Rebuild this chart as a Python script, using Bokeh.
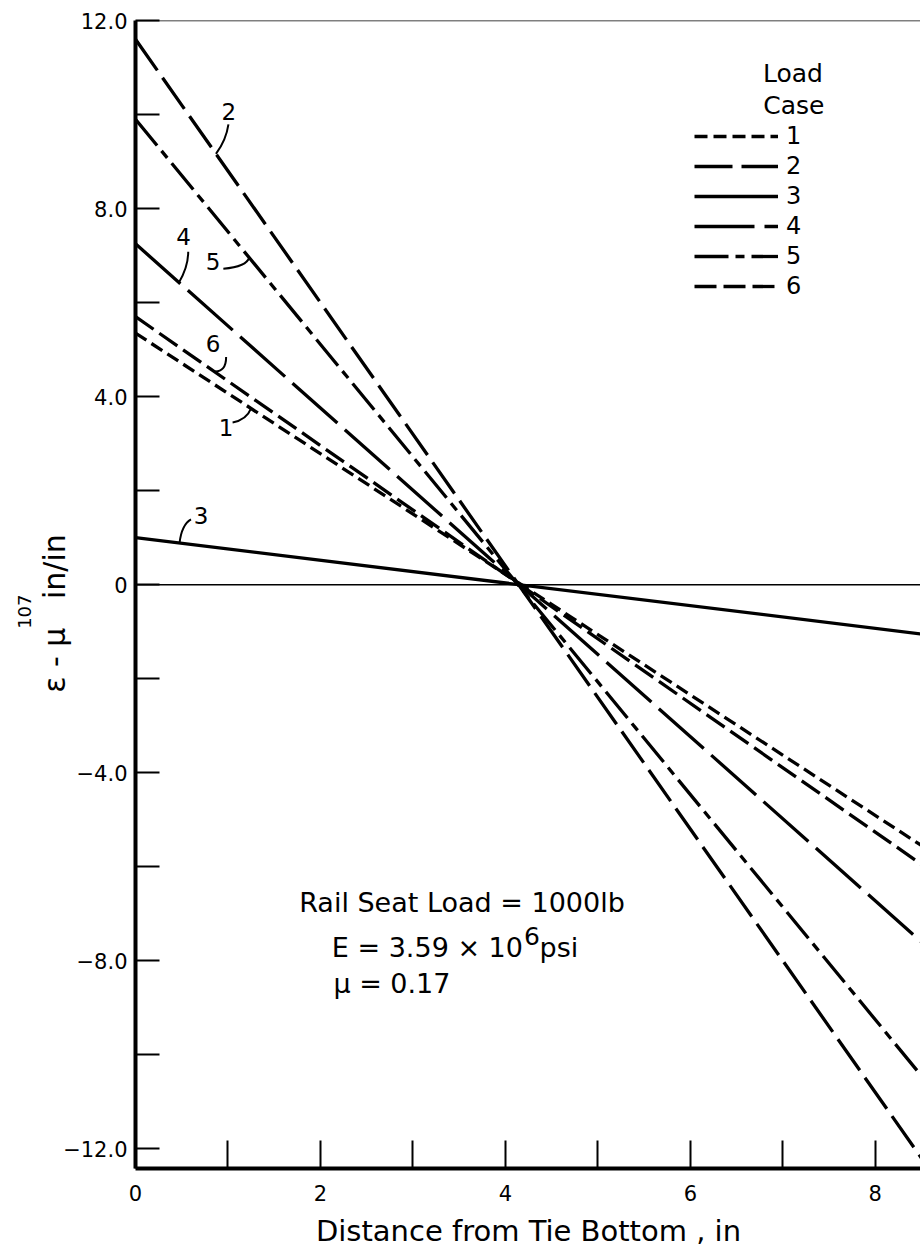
import numpy as np
from bokeh.plotting import figure
from bokeh.models import Range1d, FixedTicker, Span, Label, Legend, LegendItem, LinearAxis
from bokeh.embed import file_html
from bokeh.resources import INLINE

# ---------------- data ----------------
x_pts = [0.0, 8.5]                      # distance from tie bottom, in
case_names = ["1", "2", "3", "4", "5", "6"]
case1 = [5.35, -5.55]
case2 = [11.6, -12.2]
case3 = [1.0, -1.05]
case4 = [7.25, -7.6]
case5 = [9.9, -10.45]
case6 = [5.7, -5.95]
cases = [case1, case2, case3, case4, case5, case6]
dashes = ["13 6", "38 9", "solid", "60 10", "34 7 9 7", "22 7"]

x_ticks = [0, 1, 2, 3, 4, 5, 6, 7, 8]
x_tick_labels = ["0", "", "2", "", "4", "", "6", "", "8"]
y_ticks = [-12, -10, -8, -6, -4, -2, 0, 2, 4, 6, 8, 10, 12]
y_tick_labels = ["−12.0", "", "−8.0", "", "−4.0", "", "0", "", "4.0", "", "8.0", "", "12.0"]

FONT = "DejaVu Sans"
NB = "\u00a0"

p = figure(frame_width=786, frame_height=1148,
           x_range=Range1d(0, 8.5), y_range=Range1d(-12.42, 12.0),
           output_backend="svg", toolbar_location=None,
           min_border_left=134, min_border_right=0,
           min_border_top=20, min_border_bottom=84)
p.grid.visible = False
p.outline_line_color = None
p.background_fill_color = "white"
p.border_fill_color = "white"

# axes
p.xaxis.ticker = FixedTicker(ticks=x_ticks)
p.xaxis.major_label_overrides = {t: l for t, l in zip(x_ticks, x_tick_labels)}
p.yaxis.ticker = FixedTicker(ticks=y_ticks)
p.yaxis.major_label_overrides = {t: l for t, l in zip(y_ticks, y_tick_labels)}
for ax in (p.xaxis, p.yaxis):
    ax.axis_line_width = 4
    ax.axis_line_color = "black"
    ax.major_tick_out = 0
    ax.major_tick_line_width = 2
    ax.major_tick_line_color = "black"
    ax.minor_tick_line_color = None
    ax.major_label_text_font = FONT
    ax.major_label_text_font_size = "21px"
    ax.major_label_text_color = "black"
    ax.axis_label_text_font = FONT
    ax.axis_label_text_font_style = "normal"
    ax.axis_label_text_color = "black"
p.xaxis.major_tick_in = 28
p.yaxis.major_tick_in = 24
p.xaxis.major_label_standoff = 16
p.yaxis.major_label_standoff = 8
p.xaxis.axis_label = "Distance from Tie Bottom , in"
p.xaxis.axis_label_text_font_size = "29px"
p.xaxis.axis_label_standoff = 10
p.yaxis.axis_label = "ε" + NB + "-" + NB + "μ" + NB * 3 + "in/in" + NB * 4
p.yaxis.axis_label_text_font_size = "30px"
p.yaxis.axis_label_standoff = -12

# extra outer axis carrying the "107" multiplier
mult_axis = LinearAxis(ticker=FixedTicker(ticks=[]), axis_line_color=None,
                       major_tick_line_color=None, minor_tick_line_color=None,
                       major_tick_in=0, major_tick_out=0, major_label_standoff=0,
                       major_label_text_font_size="0px",
                       axis_label=NB * 15 + "107", axis_label_text_font=FONT,
                       axis_label_text_font_size="18px", axis_label_text_font_style="normal",
                       axis_label_text_color="black", axis_label_standoff=10,
                       axis_label_orientation=np.pi / 2)
p.add_layout(mult_axis, "left")

p.add_layout(Span(location=0, dimension="width", line_color="black", line_width=1.5))
p.add_layout(Span(location=12.0, dimension="width", line_color="black", line_width=1.5))

# lines
items = []
for name, vals, dash in zip(case_names, cases, dashes):
    r = p.line(x_pts, vals, line_color="black", line_width=3.3, line_dash=dash)
    items.append(LegendItem(label=name, renderers=[r]))

legend = Legend(items=items, location=(559, 868), glyph_width=84, glyph_height=28,
                label_height=28, spacing=2, padding=0, margin=0,
                border_line_color=None, background_fill_alpha=0,
                label_text_font=FONT, label_text_font_size="24px",
                label_text_color="black", label_standoff=8)
p.add_layout(legend)

p.add_layout(Label(x=7.11, y=10.87, text="Load", text_font=FONT, text_font_size="25px",
                   text_color="black", text_align="center", text_baseline="middle"))
p.add_layout(Label(x=7.12, y=10.2, text="Case", text_font=FONT, text_font_size="25px",
                   text_color="black", text_align="center", text_baseline="middle"))

# line call-outs: label, text x, text y, start x, start y, ctrl x, ctrl y, end x
callouts = [
    ("2", 1.01, 10.06, 1.005, 9.79, 0.98, 9.45, 0.87),
    ("5", 0.84, 6.87, 0.95, 6.72, 1.2, 6.76, 1.23),
    ("4", 0.52, 7.4, 0.57, 7.08, 0.57, 6.76, 0.47),
    ("6", 0.84, 5.12, 0.98, 4.84, 0.98, 4.52, 0.85),
    ("1", 0.98, 3.35, 1.05, 3.45, 1.2, 3.5, 1.25),
    ("3", 0.71, 1.47, 0.6, 1.39, 0.5, 1.28, 0.476),
]
for lab, tx, ty, sx, sy, cx, cy, ex in callouts:
    vals = cases[case_names.index(lab)]
    ey = float(np.interp(ex, x_pts, vals))
    p.quadratic(x0=[sx], y0=[sy], x1=[ex], y1=[ey], cx=[cx], cy=[cy],
                line_color="black", line_width=2)
    p.add_layout(Label(x=tx, y=ty, text=lab, text_font=FONT, text_font_size="23px",
                       text_color="black", text_align="center", text_baseline="middle"))

# parameter block
TXT = dict(text_font=FONT, text_color="black", text_baseline="alphabetic")
p.add_layout(Label(x=1.77, y=-6.76, text="Rail Seat Load = 1000lb", text_font_size="27px", **TXT))
p.add_layout(Label(x=4.19, y=-7.72, text="E = 3.59 × 10", text_font_size="27px",
                   text_align="right", **TXT))
p.add_layout(Label(x=4.2, y=-7.48, text="6", text_font_size="25px", **TXT))
p.add_layout(Label(x=4.37, y=-7.72, text="psi", text_font_size="27px", **TXT))
p.add_layout(Label(x=2.14, y=-8.48, text="μ = 0.17", text_font_size="27px", **TXT))

open("out.html", "w").write(file_html(p, INLINE))
